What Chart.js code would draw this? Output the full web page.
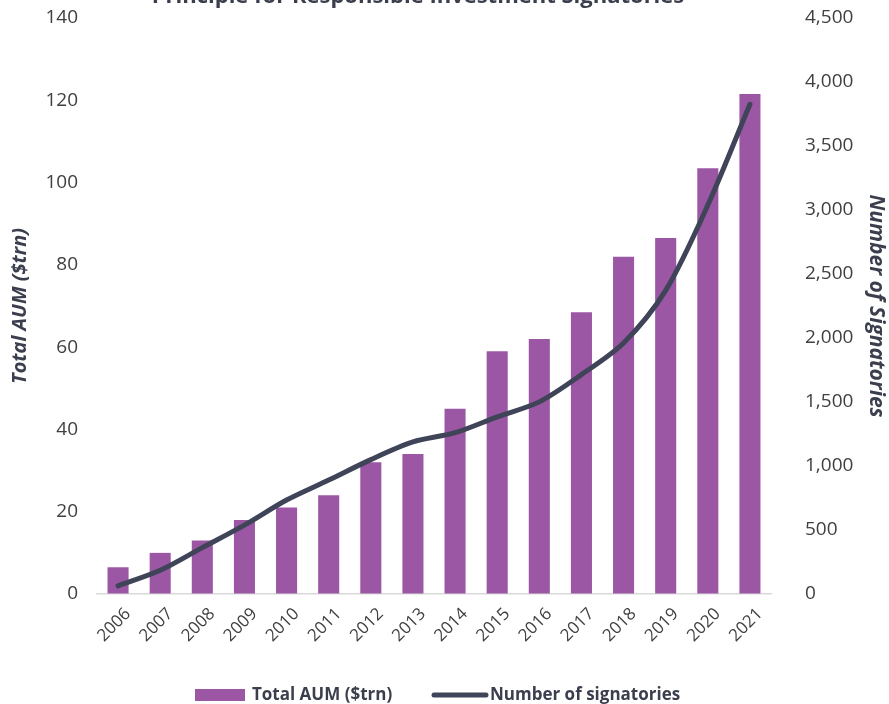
<!DOCTYPE html>
<html>
<head>
<meta charset="utf-8">
<script src="https://cdn.jsdelivr.net/npm/chart.js@4.4.1/dist/chart.umd.min.js"></script>
<style>
  html, body { margin: 0; padding: 0; background: #ffffff; }
  #wrap { position: relative; width: 889px; height: 704px; overflow: hidden; }
</style>
</head>
<body>
<div id="wrap"><canvas id="pri" width="889" height="704"></canvas></div>
<script>
// PRI signatories: assets under management and number of signatories
var years = ['2006', '2007', '2008', '2009', '2010', '2011', '2012', '2013',
             '2014', '2015', '2016', '2017', '2018', '2019', '2020', '2021'];
var aum = [6.5, 10, 13, 18, 21, 24, 32, 34, 45, 59, 62, 68.5, 82, 86.5, 103.5, 121.5];
var signatories = [63, 185, 362, 538, 734, 890, 1050, 1188, 1260, 1384, 1501, 1714, 1961, 2372, 3038, 3826];

var TITLE = 'Principle for Responsible Investment Signatories';
var INK = '#3b3e4d';
var BAR = '#9b57a4';
var LINE = '#3f4458';
var FONT = '"Open Sans", "DejaVu Sans", sans-serif';

var legendPlugin = {
  id: 'bottomLegend',
  afterDraw: function (chart) {
    var ctx = chart.ctx;
    ctx.save();
    // title, cut off at the top like the source image
    ctx.font = 'bold 22px ' + FONT;
    ctx.fillStyle = INK;
    ctx.textAlign = 'center';
    ctx.textBaseline = 'alphabetic';
    ctx.fillText(TITLE, 418, 3);

    ctx.font = 'bold 17px ' + FONT;
    ctx.textAlign = 'left';
    ctx.textBaseline = 'middle';
    var y = 695;
    ctx.fillStyle = BAR;
    ctx.fillRect(195, 689, 50, 12);
    ctx.fillStyle = INK;
    ctx.fillText(chart.data.datasets[0].label, 252, y);

    ctx.strokeStyle = LINE;
    ctx.lineWidth = 5;
    ctx.lineCap = 'round';
    ctx.beginPath();
    ctx.moveTo(434, y);
    ctx.lineTo(486, y);
    ctx.stroke();
    ctx.fillText(chart.data.datasets[1].label, 490, y);
    ctx.restore();
  }
};

// invisible tick marks give the label gap without padding the chart top
function hiddenTicks(len) {
  return { display: true, drawOnChartArea: false, drawTicks: true, tickLength: len, tickColor: 'rgba(0,0,0,0)' };
}

new Chart(document.getElementById('pri').getContext('2d'), {
  type: 'bar',
  data: {
    labels: years,
    datasets: [{
      label: 'Total AUM ($trn)',
      data: aum,
      yAxisID: 'y',
      backgroundColor: BAR,
      categoryPercentage: 1,
      barPercentage: 0.5,
      order: 1
    }, {
      type: 'line',
      label: 'Number of signatories',
      data: signatories,
      yAxisID: 'y2',
      borderColor: LINE,
      borderWidth: 5,
      borderCapStyle: 'round',
      borderJoinStyle: 'round',
      pointRadius: 0,
      tension: 0.3,
      fill: false,
      order: 0
    }]
  },
  options: {
    responsive: false,
    animation: false,
    layout: { padding: { top: 18, bottom: 40, left: 0, right: 0 } },
    plugins: {
      legend: { display: false },
      tooltip: { enabled: false }
    },
    scales: {
      x: {
        grid: { display: false, drawTicks: false },
        border: { display: true, color: '#d9d9d9', width: 1.5 },
        ticks: {
          color: '#404040',
          font: { family: FONT, size: 17 },
          autoSkip: false,
          maxRotation: 45,
          minRotation: 45,
          padding: 10,
          labelOffset: 10
        },
        afterFit: function (s) { s.height = 70; }
      },
      y: {
        position: 'left',
        min: 0,
        max: 140,
        grid: hiddenTicks(16),
        border: { display: false },
        ticks: {
          stepSize: 20,
          color: '#404040',
          font: { family: FONT, size: 19 },
          padding: 3
        },
        title: {
          display: true,
          text: 'Total AUM ($trn)',
          color: INK,
          font: { family: FONT, size: 20, weight: 'bold', style: 'italic' },
          padding: { top: 8, bottom: 0 }
        },
        afterFit: function (s) { s.width = 97; }
      },
      y2: {
        position: 'right',
        min: 0,
        max: 4500,
        grid: hiddenTicks(31),
        border: { display: false },
        ticks: {
          stepSize: 500,
          color: '#404040',
          font: { family: FONT, size: 19 },
          padding: 3,
          callback: function (v) { return v.toLocaleString('en-US'); }
        },
        title: {
          display: true,
          text: 'Number of Signatories',
          color: INK,
          font: { family: FONT, size: 21, weight: 'bold', style: 'italic' },
          padding: { top: 0, bottom: 0 }
        },
        afterFit: function (s) { s.width = 118; }
      }
    }
  },
  plugins: [legendPlugin]
});
</script>
</body>
</html>
